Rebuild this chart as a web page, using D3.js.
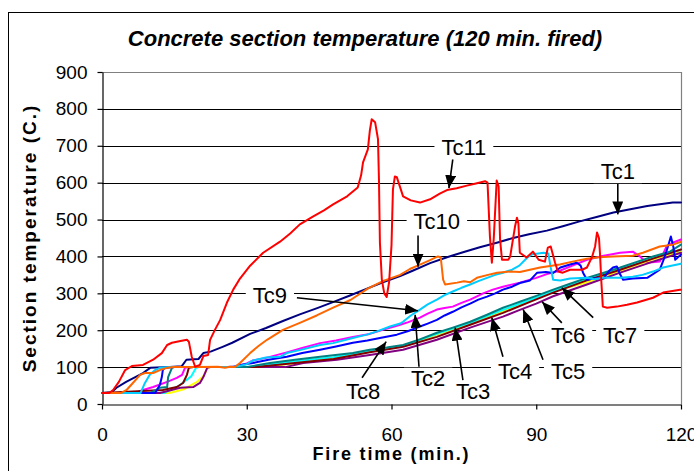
<!DOCTYPE html>
<html>
<head>
<meta charset="utf-8">
<script src="https://cdn.jsdelivr.net/npm/d3@7"></script>
<style>
  html, body { margin: 0; padding: 0; background: #fff; overflow: hidden; }
  svg { display: block; }
</style>
</head>
<body>
<svg id="chart" width="694" height="471"></svg>
<script>
// Thermocouple series: [minute, temperature °C]
const seriesNames = ["Tc1", "Tc2", "Tc3", "Tc4", "Tc5", "Tc6", "Tc7", "Tc8", "Tc9", "Tc10", "Tc11"];
const seriesColors = ["#000080", "#FF00FF", "#FFFF00", "#00FFFF", "#800080", "#800000", "#008080", "#0000FF", "#00CCFF", "#FF6600", "#FF0000"];

const tc1 = [[0,30],[2,32],[3,44],[5,60],[6.5,70],[8.5,84],[10,98],[14,100],[16.5,102],[17.5,120],[20,122],[21,138],[22.5,142],[25,155],[27,166],[30.7,190],[34,206],[37.5,225],[41,243],[44.6,260],[48,277],[51.4,294],[54.8,312],[58.2,330],[61.8,347],[64.5,362],[68,382],[71.5,398],[75,412],[78.3,425],[82,438],[85.2,450],[88.5,460],[92.2,470],[95.5,482],[99,495],[102.5,507],[106,519],[109.5,528],[113,537],[116,542],[118.3,546],[120,546]];
const tc2 = [[0,30],[7,30],[8.5,38],[10.6,46],[13.5,60],[15.5,71],[16.6,79],[17.2,98],[18,100],[26,100],[28,102],[30,110],[31.3,118],[34,125],[38.3,140],[41.5,152],[45.2,165],[48.5,172],[52,182],[55.5,190],[58.2,201],[61.8,215],[63.5,222],[65.9,234],[67.5,245],[69.4,256],[71,260],[72.7,264],[74.5,274],[76.3,283],[79,300],[81,310],[83.1,318],[86.6,329],[90,342],[92.2,352],[95,362],[97.5,375],[100.5,391],[104,402],[107.4,410],[110,413],[111.5,400],[112.9,383],[115.6,386],[117,427],[118.3,437],[120,446]];
const tc3 = [[0,30],[14,30],[17,40],[19.7,60],[21,75],[22,100],[30,100],[35,104],[41,112],[48,124],[55.5,143],[62.4,157],[69.4,188],[72.7,201],[76.3,218],[83.1,252],[88.7,280],[93.5,305],[100.5,330],[107.4,362],[114.2,392],[120,413]];
const tc4 = [[0,30],[13,30],[16,50],[18.5,75],[19.5,98],[20,100],[30,100],[35,108],[41,117],[48,127],[55.5,145],[62.4,158],[69.4,190],[76.3,220],[83.1,255],[88.7,282],[93.5,306],[100.5,338],[107.4,366],[114.2,396],[120,418]];
const tc5 = [[0,30],[12,30],[16.2,44],[18.9,46],[20.3,57],[21,73],[21.8,98],[22.5,100],[38,100],[41.7,111],[48.7,120],[55.5,133],[62.4,147],[69.4,174],[76.3,207],[83.1,237],[86.6,255],[90,272],[93.5,292],[100.5,324],[107.4,356],[114.2,386],[120,410]];
const tc6 = [[0,30],[12.6,38],[15.5,46],[16.8,57],[17.6,79],[18,98],[19,100],[32,100],[36,106],[42,114],[48,122],[55.5,140],[62.4,155],[69.4,182],[76.3,215],[83.1,247],[88.7,277],[93.5,302],[100.5,335],[107.4,364],[114.2,394],[120,419]];
const tc7 = [[0,30],[10,30],[12,44],[13.5,46],[13.7,73],[14.5,98],[15,100],[30,100],[34.8,111],[40,120],[45.2,128],[52,138],[55.5,147],[59,153],[62.4,160],[66,176],[69.4,193],[72.7,207],[76.3,223],[79.8,242],[83.1,261],[86.6,277],[90,293],[93.5,310],[97,326],[100.5,342],[104,356],[107.4,370],[111,386],[114.2,400],[117.7,413],[120,432]];
const tc8 = [[0,30],[11,30],[11.4,38],[12,52],[12.4,73],[12.6,92],[13,98],[15,100],[27,100],[28.6,106],[31.3,111],[34.5,120],[38.3,128],[41.5,138],[45.2,147],[48.5,156],[52,166],[55,172],[57.6,179],[61.1,188],[63.5,198],[65.9,210],[67.5,218],[69.4,228],[71,240],[72.7,250],[74.5,262],[76.3,272],[78,283],[79.8,291],[81.5,300],[83.1,310],[85,318],[86.6,328],[88.7,335],[90.2,356],[92,358],[93.5,355],[95,370],[97,378],[98.4,383],[99.2,375],[99.7,356],[100.5,337],[102,340],[104,342],[105.2,362],[105.9,370],[106.7,373],[107.4,351],[108,337],[110,340],[113,342],[115.6,364],[116.5,395],[117.3,427],[117.9,454],[118.4,427],[118.8,391],[120,405]];
const tc9 = [[0,30],[8,30],[8.9,57],[9.9,79],[11,92],[12,98],[14,100],[26,100],[28,102],[30,108],[31.3,118],[34,126],[36.9,128],[38.3,138],[41,146],[45.2,160],[47.9,165],[52,179],[54.9,188],[57,197],[59.7,210],[61.8,218],[62.4,223],[64,240],[65.9,256],[67.5,270],[69.4,283],[71,295],[72.7,305],[74.5,315],[76.3,324],[78,333],[79.8,342],[81.5,350],[83.1,356],[85,364],[86.5,375],[88,395],[89,405],[91.5,410],[92.5,408],[93,370],[93.5,337],[95,335],[97,340],[100.5,342],[102,338],[104,342],[107.4,342],[110,345],[112,350],[114.2,359],[116.3,370],[118,375],[120,380]];
const tc10 = [[0,30],[4,30],[5.1,38],[6.4,57],[7.9,79],[8.9,84],[10.6,84],[12,92],[13.5,98],[15,100],[20,100],[24,101],[25.5,98],[26.5,101],[27.5,100],[28.6,111],[30.7,138],[32.5,158],[34.2,174],[37.5,201],[41,220],[44.5,240],[47.9,261],[51.5,282],[55,312],[58,332],[61.8,350],[63.8,366],[65.9,378],[68,390],[69.6,400],[70.2,398],[70.7,337],[71.1,324],[73.6,329],[75,333],[76.3,330],[77.7,342],[80,350],[81.9,356],[84.6,359],[86.6,358],[88.7,364],[90.8,370],[94.9,378],[97.5,386],[100.5,394],[103,398],[105.9,400],[110,402],[112.1,410],[115.6,427],[118.3,432],[120,440]];
const tc11 = [[0,30],[1.5,30],[2.3,38],[3.5,60],[4.8,92],[6.2,103],[8.5,106],[10.6,120],[12.4,138],[13.5,160],[14.5,166],[16,170],[17.6,174],[18,169],[18.6,128],[19.3,101],[20.3,106],[21,130],[22,133],[22.4,174],[23.4,201],[24.5,228],[25.9,275],[27.2,310],[28.6,340],[30.7,375],[33.4,410],[36.9,440],[39,462],[41,487],[43.7,508],[46,525],[47.9,541],[50.8,563],[53,587],[53.7,620],[54.1,655],[55.1,690],[55.5,740],[55.9,772],[56.6,764],[57.2,718],[57.4,609],[57.6,437],[58,337],[58.5,300],[59,290],[59.5,330],[60,430],[60.3,582],[60.7,617],[61.1,615],[62.4,563],[64,552],[65.9,546],[68,555],[70,570],[71.5,580],[73.5,585],[75.6,592],[77.5,598],[79.4,604],[79.9,600],[80.4,454],[80.8,383],[81.2,450],[81.8,606],[82.2,590],[82.5,446],[82.9,391],[84.2,391],[84.6,400],[85.6,481],[86,505],[86.3,490],[86.6,410],[88,397],[89.3,413],[90.5,391],[91.8,386],[92.4,424],[93,427],[93.9,383],[94.5,359],[95.5,356],[97,364],[99.5,364],[100.5,370],[101.6,400],[102.2,427],[102.6,465],[103,450],[103.2,410],[103.5,330],[103.8,264],[104.7,261],[106.7,264],[108.8,269],[110.9,275],[114.2,288],[116.3,302],[119.8,310],[120,310]];
const seriesValues = [tc1, tc2, tc3, tc4, tc5, tc6, tc7, tc8, tc9, tc10, tc11];

// Axis ticks
const yTicks = [0, 100, 200, 300, 400, 500, 600, 700, 800, 900];
const xTicks = [0, 30, 60, 90, 120];

// Callout labels: [name, minute, temperature] (text centre)
const labelSpots = [["Tc11",75.0,696],["Tc1",106.9,631],["Tc10",69.4,495],["Tc9",34.8,294],["Tc8",54.1,35],["Tc2",67.6,71],["Tc3",76.9,35],["Tc4",85.6,90],["Tc5",96.6,90],["Tc6",96.6,188],["Tc7",107.4,188]];
// Callout arrows: [from minute, from temp, to minute, to temp]
const arrowSpots = [[72.7,663,71.9,585],[106.9,598,106.9,514],[65.5,457,65.5,372],[40.4,288,65.5,253],[53.9,71,58.9,169],[65.7,101,64.9,242],[74.8,65,73.2,207],[83.1,128,80.8,234],[91.4,120,87.3,256],[95.3,220,91.2,277],[101.8,234,95.3,315]];

const W = 694, H = 471;
const plot = { left: 102, right: 681, top: 72, bottom: 404 };
const FONT = "'Liberation Sans', Arial, Helvetica, sans-serif";

const svg = d3.select("#chart");
const x = d3.scaleLinear().domain([0, 120]).range([plot.left, plot.right]);
const y = d3.scaleLinear().domain([0, 900]).range([plot.bottom, plot.top]);

svg.append("rect").attr("width", W).attr("height", H).attr("fill", "#fff");

// outer chart frame
svg.append("rect").attr("x", 8.5).attr("y", 12.5).attr("width", 760).attr("height", 520)
  .attr("fill", "none").attr("stroke", "#000");

// title
svg.append("text").attr("x", 365).attr("y", 46).attr("text-anchor", "middle")
  .attr("font-family", FONT).attr("font-size", 22).attr("font-weight", "bold").attr("font-style", "italic")
  .text("Concrete section temperature (120 min. fired)");

// gridlines
svg.append("g").selectAll("line").data(yTicks.filter(d => d > 0 && d < 900)).join("line")
  .attr("x1", plot.left).attr("x2", plot.right)
  .attr("y1", d => Math.round(y(d)) + 0.5).attr("y2", d => Math.round(y(d)) + 0.5)
  .attr("stroke", "#000").attr("stroke-width", 1);

// plot area border (top / right)
svg.append("path")
  .attr("d", `M${plot.left},${plot.top + 0.5}H${plot.right + 0.5}V${plot.bottom}`)
  .attr("fill", "none").attr("stroke", "#808080").attr("stroke-width", 1.2);

// axes
const yAxis = svg.append("g").attr("transform", `translate(${plot.left + 0.5},0)`)
  .call(d3.axisLeft(y).tickValues(yTicks).tickSize(5).tickSizeOuter(0).tickPadding(10));
const xAxis = svg.append("g").attr("transform", `translate(0,${plot.bottom + 0.5})`)
  .call(d3.axisBottom(x).tickValues(xTicks).tickSize(5).tickSizeOuter(0).tickPadding(18));
[yAxis, xAxis].forEach(g => {
  g.attr("font-family", FONT).attr("font-size", 19);
  g.selectAll("path, line").attr("stroke", "#000").attr("stroke-width", 1.2);
  g.selectAll("text").attr("fill", "#000");
});

// axis titles
svg.append("text").attr("x", (plot.left + plot.right) / 2).attr("y", 460).attr("text-anchor", "middle")
  .attr("font-family", FONT).attr("font-size", 18).attr("font-weight", "bold").attr("letter-spacing", 1.8)
  .text("Fire time (min.)");
svg.append("text").attr("transform", `translate(36,${(plot.top + plot.bottom) / 2}) rotate(-90)`)
  .attr("text-anchor", "middle")
  .attr("font-family", FONT).attr("font-size", 19).attr("font-weight", "bold").attr("letter-spacing", 2)
  .text("Section temperature (C.)");

// series lines
const line = d3.line().x(d => x(d[0])).y(d => y(d[1]));
svg.append("g").selectAll("path").data(seriesValues).join("path")
  .attr("d", line).attr("fill", "none")
  .attr("stroke", (d, i) => seriesColors[i]).attr("stroke-width", 2)
  .attr("stroke-linejoin", "round").attr("stroke-linecap", "round");

// callouts
svg.append("defs").append("marker").attr("id", "arrowhead")
  .attr("viewBox", "0 0 13 11").attr("refX", 13).attr("refY", 5.5)
  .attr("markerWidth", 13).attr("markerHeight", 11).attr("markerUnits", "userSpaceOnUse")
  .attr("orient", "auto")
  .append("path").attr("d", "M0,0L13,5.5L0,11Z").attr("fill", "#000");

svg.append("g").selectAll("line").data(arrowSpots).join("line")
  .attr("x1", d => x(d[0])).attr("y1", d => y(d[1]))
  .attr("x2", d => x(d[2])).attr("y2", d => y(d[3]))
  .attr("stroke", "#000").attr("stroke-width", 1.6).attr("marker-end", "url(#arrowhead)");

const labels = svg.append("g").attr("font-family", FONT).attr("font-size", 22);
labelSpots.forEach(([name, t, v]) => {
  const g = labels.append("g");
  const txt = g.append("text").attr("x", x(t)).attr("y", y(v)).attr("dy", "0.36em")
    .attr("text-anchor", "middle").attr("fill", "#000").text(name);
  const b = txt.node().getBBox();
  g.insert("rect", "text").attr("x", b.x - 7).attr("y", b.y + 2).attr("width", b.width + 14)
    .attr("height", b.height - 3).attr("fill", "#fff");
});
</script>
</body>
</html>
